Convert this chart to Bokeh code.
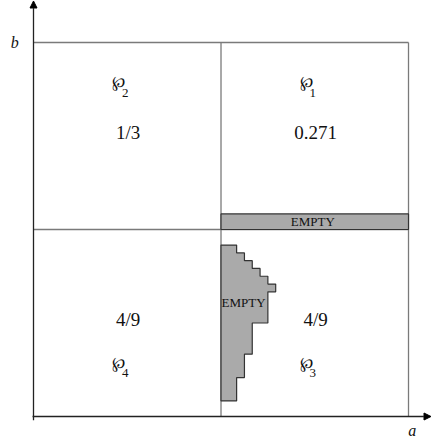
from bokeh.plotting import figure
from bokeh.models import Range1d, Arrow, NormalHead, ColumnDataSource
from bokeh.core.properties import value
from bokeh.embed import file_html
from bokeh.resources import INLINE

# ---- data ----
# quadrant values and labels (quadrant centre in a,b units)
quad_names = ["\u2118", "\u2118", "\u2118", "\u2118"]
quad_subs = ["1", "2", "3", "4"]
quad_values = ["0.271", "1/3", "4/9", "4/9"]
quad_cx = [1.5, 0.5, 1.5, 0.5]
quad_cy = [1.5, 1.5, 0.5, 0.5]

# empty strip above the boundary b = 1 (a from 1 to 2)
strip_a = [1.0, 2.0]
strip_b = [1.0, 1.0 + 2 / 24]

# staircase empty region in quadrant 3 (units of 1/24)
stair_a = [0, 0, 2, 2, 3, 3, 4, 4, 5, 5, 6, 6, 7, 7, 6, 6, 4, 4, 3, 3, 2, 2]
stair_b = [2, 22, 22, 21, 21, 20, 20, 19, 19, 18, 18, 17, 17, 16, 16, 12, 12, 8, 8, 5, 5, 2]

SERIF = value("Liberation Serif")

p = figure(width=433, height=442, output_backend="svg", toolbar_location=None,
           x_range=Range1d(-0.176, 2.1333), y_range=Range1d(-0.139, 2.2246),
           x_axis_location=None, y_axis_location=None, min_border=0)
p.grid.visible = False
p.outline_line_color = None
p.background_fill_color = "white"

# square grid lines
p.multi_line(xs=[[0, 2], [2, 2], [0, 2], [1, 1]],
             ys=[[2, 2], [0, 2], [1, 1], [0, 2]],
             line_color="#7a7a7a", line_width=1.3)

# empty strip
p.quad(left=strip_a[0], right=strip_a[1], bottom=strip_b[0], top=strip_b[1],
       fill_color="#aaaaaa", line_color="#333333", line_width=1.2)

# staircase polygon
p.patch(x=[1 + v / 24 for v in stair_a], y=[v / 24 for v in stair_b],
        fill_color="#aaaaaa", line_color="#333333", line_width=1.2)

# axes with arrows
p.add_layout(Arrow(end=NormalHead(size=7, fill_color="black", line_color="black"),
                   x_start=0, y_start=-0.02, x_end=0, y_end=2.222,
                   line_color="#222222", line_width=1.3))
p.add_layout(Arrow(end=NormalHead(size=7, fill_color="black", line_color="black"),
                   x_start=-0.005, y_start=0, x_end=2.12, y_end=0,
                   line_color="#222222", line_width=1.3))

# value labels
src = ColumnDataSource(dict(x=[c + 0.005 for c in quad_cx], y=[c + 0.02 for c in quad_cy],
                            t=quad_values))
p.text(x="x", y="y", text="t", source=src, text_font=SERIF, text_font_size="19px",
       text_align="center", text_baseline="middle", text_color="#111111")

# symbol labels (℘ with subscript)
sym_x = [c - 0.08 for c in quad_cx]
sym_y = [cy + 0.29 if cy > 1 else cy - 0.21 for cy in quad_cy]
src2 = ColumnDataSource(dict(x=sym_x, y=sym_y, t=quad_names,
                             xs=[x + 0.052 for x in sym_x], ys=[y - 0.06 for y in sym_y],
                             s=quad_subs))
p.text(x="x", y="y", text="t", source=src2, text_font=value("DejaVu Serif"),
       text_font_size="16px", text_align="left", text_baseline="middle", text_color="#111111")
p.text(x="xs", y="ys", text="s", source=src2, text_font=SERIF,
       text_font_size="13px", text_align="left", text_baseline="middle", text_color="#111111")

# EMPTY labels
p.text(x=[1.49, 1.12], y=[1.043, 0.611], text=["EMPTY", "EMPTY"], text_font=SERIF,
       text_font_size="13px", text_align="center", text_baseline="middle", text_color="#111111")

# axis names
p.text(x=[-0.10, 2.02], y=[2.0, -0.075], text=["b", "a"], text_font=SERIF,
       text_font_style="italic", text_font_size="16px", text_align="center",
       text_baseline="middle", text_color="#111111")

open("out.html", "w").write(file_html(p, INLINE))
